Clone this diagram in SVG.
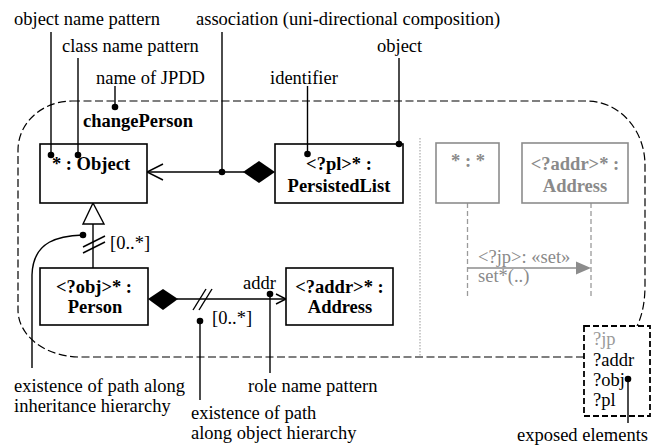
<svg xmlns="http://www.w3.org/2000/svg" width="668" height="445" viewBox="0 0 668 445" font-family="'Liberation Serif', Tinos, 'Times New Roman', Times, serif">
  <style>
    text { font-size: 18.5px; fill: #000; }
    .b { font-weight: bold; }
    .g { fill: #8a8a8a; }
    .lg { fill: #9a9a9a; }
    .mid { text-anchor: middle; }
    .box { fill: #fff; stroke: #000; stroke-width: 1.6; }
    .gbox { fill: #fff; stroke: #8c8c8c; stroke-width: 1.6; }
    .ln { fill: none; stroke: #000; stroke-width: 1.4; }
    .gln { fill: none; stroke: #8c8c8c; stroke-width: 1.4; }
    .life { fill: none; stroke: #9a9a9a; stroke-width: 1.3; stroke-dasharray: 5 3; }
    .dot { fill: #000; }
  </style>

  <!-- JPDD boundary -->
  <g id="boundary">
    <path d="M72,101 H587 A58,64 0 0 1 645,165 V285 Q645,310 637,326 M584,357 H80 A62,47 0 0 1 18,310 V150 A54,49 0 0 1 72,101"
          fill="none" stroke="#000" stroke-width="1.2" stroke-dasharray="8 3.5"/>
    <line x1="420" y1="138" x2="420" y2="357" stroke="#aaa" stroke-width="1.2" stroke-dasharray="1.5 1.5"/>
    <text x="83" y="127" class="b">changePerson</text>
  </g>

  <!-- connectors -->
  <g id="connectors">
    <!-- PersistedList to Object composition -->
    <line class="ln" x1="147" y1="172" x2="244" y2="172"/>
    <polyline class="ln" points="163,164 147,172 163,180"/>
    <polygon points="243,172 259,161 275,172 259,183" fill="#000"/>
    <!-- generalization Person to Object -->
    <line class="ln" x1="93" y1="224" x2="93" y2="268"/>
    <polygon points="93,203 83,224 104,224" fill="#fff" stroke="#000" stroke-width="1.4"/>
    <line class="ln" x1="83" y1="247" x2="105" y2="236"/>
    <line class="ln" x1="83" y1="253" x2="105" y2="242"/>
    <text x="110" y="249">[0..*]</text>
    <!-- Person to Address composition -->
    <line class="ln" x1="177" y1="299" x2="286" y2="299"/>
    <polyline class="ln" points="276,294 286,299 276,304"/>
    <polygon points="148,299 163,289 178,299 163,310" fill="#000"/>
    <line class="ln" x1="193" y1="310" x2="206" y2="289"/>
    <line class="ln" x1="199" y1="310" x2="212" y2="289"/>
    <text x="212" y="324">[0..*]</text>
    <text x="243" y="289">addr</text>
    <!-- message between lifelines -->
    <line class="life" x1="467.5" y1="203" x2="467.5" y2="298"/>
    <line class="life" x1="591" y1="203" x2="591" y2="298"/>
    <line class="gln" x1="468" y1="268" x2="578" y2="268"/>
    <polygon points="576,261.5 591,268 576,274.5" fill="#8c8c8c"/>
    <text x="478" y="263" class="g">&lt;?jp&gt;: «set»</text>
    <text x="478" y="282" class="g">set*(..)</text>
  </g>

  <!-- nodes -->
  <g id="node-object">
    <rect class="box" x="40" y="144" width="107" height="59"/>
    <text x="91" y="170" class="b mid">* : Object</text>
  </g>
  <g id="node-persistedlist">
    <rect class="box" x="275" y="144" width="128" height="59"/>
    <text x="339" y="170" class="b mid">&lt;?pl&gt;* :</text>
    <text x="339" y="192" class="b mid">PersistedList</text>
  </g>
  <g id="node-person">
    <rect class="box" x="40" y="268" width="108" height="57"/>
    <text x="94" y="293" class="b mid">&lt;?obj&gt;* :</text>
    <text x="95" y="313" class="b mid">Person</text>
  </g>
  <g id="node-address">
    <rect class="box" x="286" y="268" width="107" height="57"/>
    <text x="339.5" y="293" class="b mid">&lt;?addr&gt;* :</text>
    <text x="340" y="313" class="b mid">Address</text>
  </g>
  <g id="node-any">
    <rect class="gbox" x="436" y="143" width="63" height="60"/>
    <text x="468" y="167" class="b g mid">* : *</text>
  </g>
  <g id="node-address-seq">
    <rect class="gbox" x="522" y="143" width="106" height="60"/>
    <text x="575" y="170" class="b g mid">&lt;?addr&gt;* :</text>
    <text x="575" y="192" class="b g mid">Address</text>
  </g>
  <g id="node-exposed">
    <rect x="584" y="326" width="66" height="90" fill="#fff" stroke="#000" stroke-width="1.8" stroke-dasharray="6 3"/>
    <text x="593" y="345" class="lg">?jp</text>
    <text x="593" y="365.5">?addr</text>
    <text x="593" y="386">?obj</text>
    <text x="593" y="406">?pl</text>
  </g>

  <!-- annotations -->
  <g id="annotations">
    <text x="14" y="25">object name pattern</text>
    <line class="ln" x1="51" y1="32" x2="51" y2="155"/>
    <circle class="dot" cx="51" cy="155" r="3.3"/>

    <text x="62" y="52">class name pattern</text>
    <line class="ln" x1="78" y1="58" x2="78" y2="155"/>
    <circle class="dot" cx="78" cy="155" r="3.3"/>

    <text x="96" y="84">name of JPDD</text>
    <line class="ln" x1="115" y1="86" x2="115" y2="107"/>
    <circle class="dot" cx="115" cy="107" r="3.3"/>

    <text x="196" y="25">association (uni-directional composition)</text>
    <line class="ln" x1="222" y1="32" x2="222" y2="172"/>
    <circle class="dot" cx="222" cy="172" r="3.3"/>

    <text x="270" y="84">identifier</text>
    <line class="ln" x1="307.5" y1="86" x2="307.5" y2="154"/>
    <circle class="dot" cx="307.5" cy="154" r="3.3"/>

    <text x="377" y="52">object</text>
    <line class="ln" x1="399" y1="58" x2="399" y2="144"/>
    <circle class="dot" cx="399" cy="144" r="3.3"/>

    <path class="ln" d="M83,235 C60,236 33,240 32,275 V368"/>
    <circle class="dot" cx="83" cy="235" r="3.3"/>
    <text x="14" y="392">existence of path along</text>
    <text x="14" y="412">inheritance hierarchy</text>

    <line class="ln" x1="200" y1="321" x2="200" y2="400"/>
    <circle class="dot" cx="200" cy="321" r="3.3"/>
    <text x="191" y="419">existence of path</text>
    <text x="191" y="439">along object hierarchy</text>

    <line class="ln" x1="270" y1="294" x2="270" y2="373"/>
    <circle class="dot" cx="270" cy="294" r="3.3"/>
    <text x="248" y="392">role name pattern</text>

    <line class="ln" x1="628" y1="379" x2="628" y2="423"/>
    <circle class="dot" cx="628" cy="379" r="3.3"/>
    <text x="517" y="441">exposed elements</text>
  </g>
</svg>
